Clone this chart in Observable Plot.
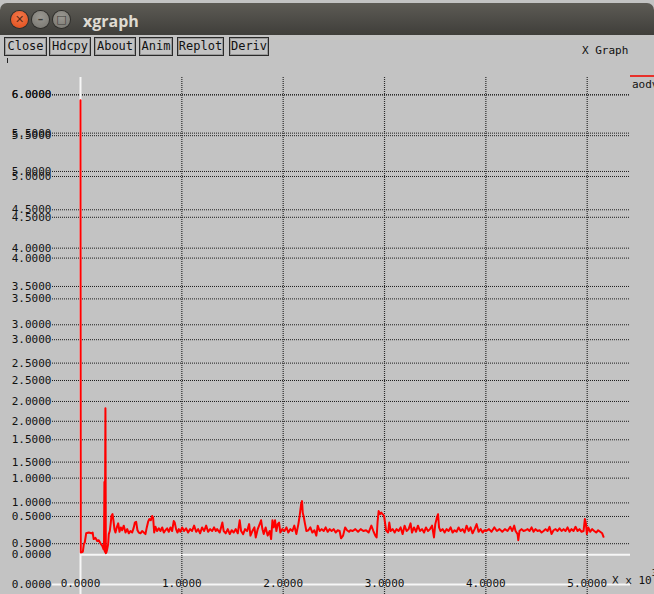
<!DOCTYPE html>
<html>
<head>
<meta charset="utf-8">
<script src="https://cdn.jsdelivr.net/npm/d3@7"></script>
<script src="https://cdn.jsdelivr.net/npm/@observablehq/plot@0.6"></script>
<style>
  html, body { margin: 0; padding: 0; }
  body { width: 654px; height: 594px; overflow: hidden; background: #ffffff; position: relative; }
  #win { position: absolute; left: 0; top: 0; width: 654px; height: 594px; background: #c3c3c3; overflow: hidden; }
  #titlebar { position: absolute; left: 0; top: 3px; width: 654px; height: 32px;
    background: linear-gradient(#5d5b55, #3f3e3a); border-radius: 7px 7px 0 0; }
  .wbtn { position: absolute; top: 8px; width: 17px; height: 17px; border-radius: 50%;
    font: bold 11px "DejaVu Sans", sans-serif; color: #3c3b37; text-align: center; line-height: 17px; }
  #bclose { left: 11px; background: radial-gradient(circle at 50% 35%, #f47a4e, #df4a16); box-shadow: 0 0 0 1px #2e2d2a; color: #5a2a14; }
  #bmin { left: 32px; background: radial-gradient(circle at 50% 35%, #9a9892, #76746e); box-shadow: 0 0 0 1px #2e2d2a; }
  #bmax { left: 53px; background: radial-gradient(circle at 50% 35%, #9a9892, #76746e); box-shadow: 0 0 0 1px #2e2d2a; }
  #wtitle { position: absolute; left: 83px; top: 8px; font: bold 16px "Open Sans", "DejaVu Sans", sans-serif; color: #dfdbd2; line-height: 20px; }
  .btn { position: absolute; top: 37px; height: 17px; border: 1px solid #2a2a2a; box-shadow: inset 0 0 0 1px #9a9a9a;
    font: 12px "DejaVu Sans Mono", monospace; color: #111; text-align: center; line-height: 17px; }
  .lbl { position: absolute; font: 11px "DejaVu Sans Mono", monospace; color: #111; white-space: nowrap; }
  svg.layer { position: absolute; left: 0; top: 77px; }
</style>
</head>
<body>
<div id="win">
  <div id="titlebar">
    <div class="wbtn" id="bclose">&#x2715;</div>
    <div class="wbtn" id="bmin">&#x2013;</div>
    <div class="wbtn" id="bmax">&#x25A1;</div>
    <div id="wtitle">xgraph</div>
  </div>
  <div class="btn" style="left:4px;width:41px">Close</div>
  <div class="btn" style="left:49px;width:40px">Hdcpy</div>
  <div class="btn" style="left:94px;width:40px">About</div>
  <div class="btn" style="left:139px;width:32px">Anim</div>
  <div class="btn" style="left:177px;width:45px">Replot</div>
  <div class="btn" style="left:229px;width:38px">Deriv</div>
  <div style="position:absolute;left:7px;top:58px;width:1px;height:5px;background:#222"></div>
  <div class="lbl" style="left:582px;top:44px">X Graph</div>
  <div style="position:absolute;left:630px;top:75px;width:24px;height:2px;background:#e8302a"></div>
  <div class="lbl" style="left:632px;top:78px">aodv</div>
  <div class="lbl" style="left:612px;top:571px">X x 10<sup style="font-size:9px;position:relative;top:-3px">3</sup></div>
  <div id="chart"></div>
</div>
<script>
// aodv trace: time (x 10^3) and value
const aodvX = [
  0, 0.003, 0.023, 0.033, 0.042, 0.056, 0.082, 0.108, 0.12, 0.13, 0.148, 0.165, 0.18, 0.197, 0.214, 0.228,
  0.232, 0.236, 0.240, 0.246, 0.250, 0.255, 0.263, 0.273, 0.279, 0.289, 0.299, 0.306, 0.316, 0.325, 0.335,
  0.345, 0.358, 0.372, 0.385, 0.398, 0.411, 0.427, 0.444, 0.461, 0.477, 0.493, 0.51, 0.526, 0.536, 0.549,
  0.562, 0.575, 0.592, 0.608, 0.625, 0.641, 0.654, 0.668, 0.68, 0.694, 0.707, 0.717, 0.727, 0.74, 0.756,
  0.773, 0.789, 0.806, 0.822, 0.838, 0.855, 0.871, 0.888, 0.904, 0.92, 0.93, 0.943, 0.957, 0.97, 0.986,
  1.003, 1.022, 1.042, 1.062, 1.082, 1.101, 1.121, 1.141, 1.161, 1.18, 1.2, 1.22, 1.24, 1.259, 1.279,
  1.299, 1.318, 1.335, 1.348, 1.374, 1.40, 1.413, 1.433, 1.453, 1.473, 1.492, 1.512, 1.532, 1.552, 1.571,
  1.585, 1.605, 1.624, 1.644, 1.664, 1.677, 1.696, 1.716, 1.729, 1.749, 1.768, 1.782, 1.795, 1.808, 1.827,
  1.847, 1.867, 1.881, 1.894, 1.907, 1.92, 1.933, 1.946, 1.959, 1.972, 1.992, 2.012, 2.032, 2.051, 2.071,
  2.091, 2.11, 2.13, 2.15, 2.163, 2.177, 2.186, 2.193, 2.202, 2.216, 2.229, 2.249, 2.268, 2.288, 2.308,
  2.327, 2.341, 2.36, 2.38, 2.40, 2.419, 2.439, 2.459, 2.478, 2.498, 2.518, 2.538, 2.557, 2.571, 2.591,
  2.611, 2.63, 2.65, 2.663, 2.686, 2.712, 2.739, 2.765, 2.791, 2.818, 2.843, 2.87, 2.89, 2.909, 2.922,
  2.932, 2.942, 2.956, 2.968, 2.981, 2.995, 3.005, 3.015, 3.035, 3.047, 3.06, 3.08, 3.10, 3.119, 3.139,
  3.159, 3.179, 3.198, 3.218, 3.238, 3.257, 3.271, 3.291, 3.311, 3.33, 3.35, 3.37, 3.39, 3.409, 3.429,
  3.449, 3.469, 3.488, 3.501, 3.518, 3.528, 3.538, 3.553, 3.573, 3.593, 3.613, 3.632, 3.652, 3.672, 3.691,
  3.711, 3.731, 3.751, 3.77, 3.79, 3.81, 3.83, 3.849, 3.869, 3.889, 3.909, 3.928, 3.948, 3.968, 3.985,
  4.004, 4.031, 4.056, 4.083, 4.109, 4.135, 4.162, 4.188, 4.214, 4.241, 4.26, 4.28, 4.293, 4.313, 4.32,
  4.332, 4.352, 4.372, 4.392, 4.412, 4.431, 4.451, 4.471, 4.49, 4.51, 4.53, 4.55, 4.569, 4.589, 4.609,
  4.628, 4.648, 4.668, 4.688, 4.707, 4.727, 4.747, 4.767, 4.786, 4.806, 4.826, 4.845, 4.865, 4.885, 4.905,
  4.924, 4.944, 4.964, 4.977, 4.987, 4.997, 5.01, 5.03, 5.049, 5.069, 5.089, 5.108, 5.128, 5.148, 5.161
];
const aodvY = [
  5.93, 0.03, 0.04, 0.14, 0.16, 0.28, 0.29, 0.28, 0.29, 0.205, 0.22, 0.18, 0.19, 0.15, 0.12, 0.07,
  0.12, 0.95, 0.04, 1.91, 0.02, 0.03, 0.07, 0.14, 0.27, 0.31, 0.42, 0.51, 0.53, 0.45, 0.335,
  0.29, 0.357, 0.41, 0.30, 0.357, 0.32, 0.38, 0.29, 0.335, 0.28, 0.31, 0.29, 0.357, 0.42, 0.43,
  0.32, 0.29, 0.28, 0.31, 0.29, 0.27, 0.357, 0.435, 0.466, 0.45, 0.505, 0.48, 0.29, 0.365, 0.31,
  0.345, 0.31, 0.357, 0.29, 0.32, 0.345, 0.30, 0.357, 0.31, 0.44, 0.42, 0.335, 0.29, 0.335, 0.30,
  0.357, 0.31, 0.345, 0.29, 0.335, 0.31, 0.38, 0.30, 0.335, 0.28, 0.357, 0.31, 0.38, 0.30, 0.335,
  0.31, 0.357, 0.31, 0.335, 0.29, 0.42, 0.31, 0.28, 0.335, 0.27, 0.32, 0.29, 0.335, 0.28, 0.45,
  0.31, 0.27, 0.335, 0.31, 0.40, 0.25, 0.31, 0.357, 0.226, 0.335, 0.40, 0.45, 0.335, 0.27, 0.357,
  0.25, 0.31, 0.205, 0.45, 0.357, 0.45, 0.31, 0.40, 0.42, 0.29, 0.335, 0.31, 0.357, 0.29, 0.335,
  0.31, 0.38, 0.27, 0.40, 0.51, 0.66, 0.70, 0.55, 0.50, 0.40, 0.31, 0.32, 0.357, 0.29, 0.32,
  0.25, 0.38, 0.31, 0.335, 0.31, 0.357, 0.30, 0.335, 0.31, 0.335, 0.29, 0.32, 0.31, 0.215, 0.25,
  0.357, 0.32, 0.30, 0.32, 0.31, 0.335, 0.30, 0.335, 0.31, 0.32, 0.29, 0.38, 0.31, 0.25, 0.226,
  0.44, 0.57, 0.53, 0.55, 0.53, 0.51, 0.42, 0.32, 0.29, 0.42, 0.31, 0.335, 0.29, 0.335, 0.31,
  0.357, 0.27, 0.38, 0.31, 0.335, 0.41, 0.29, 0.357, 0.30, 0.38, 0.31, 0.335, 0.29, 0.357, 0.31,
  0.335, 0.38, 0.226, 0.40, 0.49, 0.53, 0.357, 0.31, 0.335, 0.29, 0.335, 0.31, 0.357, 0.29, 0.32,
  0.30, 0.357, 0.31, 0.335, 0.29, 0.38, 0.31, 0.357, 0.28, 0.335, 0.40, 0.30, 0.335, 0.29, 0.32,
  0.31, 0.335, 0.30, 0.357, 0.31, 0.335, 0.30, 0.335, 0.31, 0.365, 0.31, 0.38, 0.31, 0.27, 0.19,
  0.31, 0.335, 0.31, 0.32, 0.335, 0.31, 0.357, 0.30, 0.335, 0.31, 0.32, 0.29, 0.31, 0.335, 0.31,
  0.365, 0.27, 0.32, 0.335, 0.31, 0.345, 0.31, 0.335, 0.31, 0.357, 0.30, 0.335, 0.31, 0.365, 0.31,
  0.335, 0.30, 0.31, 0.466, 0.41, 0.27, 0.357, 0.30, 0.335, 0.31, 0.29, 0.32, 0.30, 0.28, 0.235
];

// axis ticks
const xTicks = [0, 1, 2, 3, 4, 5];
const yTicks = [0, 0.5, 1, 1.5, 2, 2.5, 3, 3.5, 4, 4.5, 5, 5.5, 6];

const trace = aodvX.map((x, i) => ({x, y: aodvY[i]}));
const fmt = d3.format(".4f");
const mono = "DejaVu Sans Mono";

// shared horizontal extent of the graph area (grid runs from the labels to the right edge)
const xDomain = [-0.2763, 5.4273];
const common = {
  width: 654, height: 517,
  marginTop: 0, marginBottom: 0, marginLeft: 52, marginRight: 24,
  x: {domain: xDomain, axis: null},
  style: {background: "transparent", overflow: "visible"}
};

// back layer: the second (wider-spaced) set of y gridlines and labels, with its own zero line
const back = Plot.plot({
  ...common,
  y: {domain: [-0.1225, 6.213], axis: null},
  marks: [
    Plot.ruleY(yTicks.filter(d => d > 0), {stroke: "#1c1c1c", strokeDasharray: "1,1"}),
    Plot.ruleY([0], {x1: xDomain[0], x2: xDomain[1], stroke: "#f6f6f6", strokeWidth: 2.2}),
    Plot.text(yTicks, {y: d => d, frameAnchor: "left", textAnchor: "end", dx: -1,
      text: d => fmt(d), fontFamily: mono, fontSize: 11, fill: "#111"})
  ]
});

// front layer: main y gridlines, x grid, labels and the aodv trace
const front = Plot.plot({
  ...common,
  y: {domain: [-0.518, 6.2256], axis: null},
  marks: [
    Plot.ruleY(yTicks.filter(d => d > 0), {stroke: "#1c1c1c", strokeDasharray: "1,1"}),
    Plot.ruleY([0], {x1: 0, x2: xDomain[1], stroke: "#f6f6f6", strokeWidth: 2}),
    Plot.ruleX(xTicks.filter(d => d > 0), {stroke: "#2a2a2a", strokeWidth: 1.2, strokeDasharray: "1,1"}),
    Plot.ruleX([0], {stroke: "#f6f6f6", strokeWidth: 2}),
    Plot.text(yTicks, {y: d => d, frameAnchor: "left", textAnchor: "end", dx: -1,
      text: d => fmt(d), fontFamily: mono, fontSize: 11, fill: "#111"}),
    Plot.text(xTicks, {x: d => d, frameAnchor: "bottom", dy: -8,
      text: d => fmt(d), fontFamily: mono, fontSize: 11, fill: "#111"}),
    Plot.line(trace, {x: "x", y: "y", stroke: "#ff0000", strokeWidth: 2, strokeLinejoin: "round"})
  ]
});

back.classList.add("layer");
front.classList.add("layer");
const host = document.getElementById("chart");
host.appendChild(back);
host.appendChild(front);
</script>
</body>
</html>
